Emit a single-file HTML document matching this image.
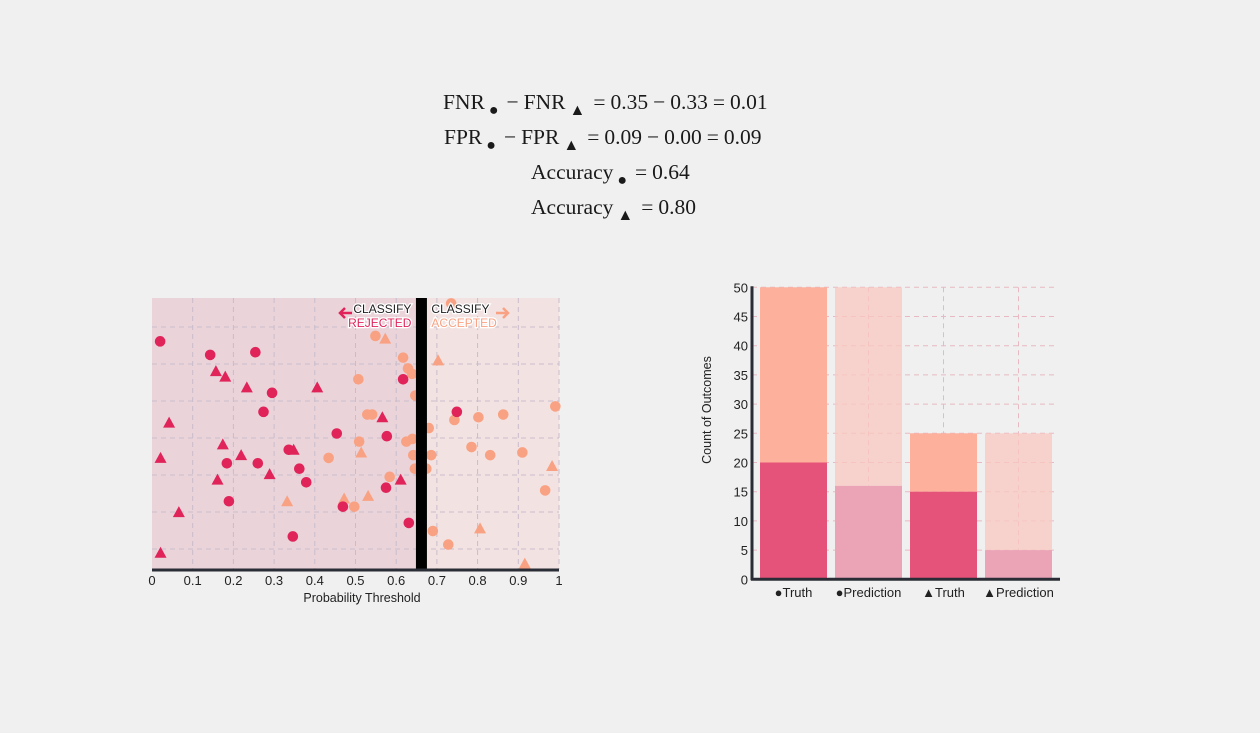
<!DOCTYPE html>
<html><head><meta charset="utf-8">
<style>
html,body{margin:0;padding:0;background:#eff0ef;}
body{width:1260px;height:733px;position:relative;overflow:hidden;font-family:"Liberation Sans",sans-serif;}
.eq{position:absolute;font-family:"Liberation Serif",serif;font-size:21.5px;color:#1a1a1a;white-space:nowrap;}
.eq sub{font-size:16px;vertical-align:-6px;margin:0 3px 0 4px;}
.eq .op{margin:0 5px;}
</style></head>
<body>
<div class="eq" style="left:443px;top:90px;">FNR<sub>●</sub><span class="op">−</span>FNR<sub>▲</sub><span class="op">=</span>0.35<span class="op">−</span>0.33<span class="op">=</span>0.01</div>
<div class="eq" style="left:444px;top:125px;">FPR<sub>●</sub><span class="op">−</span>FPR<sub>▲</sub><span class="op">=</span>0.09<span class="op">−</span>0.00<span class="op">=</span>0.09</div>
<div class="eq" style="left:531px;top:160px;">Accuracy<sub>●</sub><span class="op">=</span>0.64</div>
<div class="eq" style="left:531px;top:195px;">Accuracy<sub>▲</sub><span class="op">=</span>0.80</div>

<svg id="scatter" width="1260" height="733" style="position:absolute;left:0;top:0" xmlns="http://www.w3.org/2000/svg"></svg>

<script>
// scatter data
const threshold = 0.662;
const darkCircleX = [0.02,0.143,0.254,0.295,0.274,0.454,0.577,0.617,0.336,0.184,0.260,0.362,0.379,0.189,0.575,0.469,0.631,0.346,0.749];
const darkCircleY = [0.84,0.79,0.80,0.65,0.58,0.50,0.49,0.70,0.44,0.39,0.39,0.37,0.32,0.25,0.30,0.23,0.17,0.12,0.58];
const darkTriX = [0.157,0.180,0.233,0.406,0.042,0.566,0.174,0.021,0.219,0.348,0.289,0.161,0.611,0.066,0.021];
const darkTriY = [0.73,0.71,0.67,0.67,0.54,0.56,0.46,0.41,0.42,0.44,0.35,0.33,0.33,0.21,0.06];
const lightCircleX = [0.549,0.735,0.617,0.629,0.639,0.507,0.647,0.529,0.541,0.743,0.802,0.863,0.991,0.680,0.640,0.625,0.509,0.434,0.642,0.686,0.785,0.831,0.910,0.646,0.674,0.584,0.497,0.966,0.690,0.728];
const lightCircleY = [0.86,0.98,0.78,0.74,0.72,0.70,0.64,0.57,0.57,0.55,0.56,0.57,0.60,0.52,0.48,0.47,0.47,0.41,0.42,0.42,0.45,0.42,0.43,0.37,0.37,0.34,0.23,0.29,0.14,0.09];
const lightTriX = [0.573,0.703,0.514,0.983,0.332,0.472,0.531,0.806,0.916];
const lightTriY = [0.85,0.77,0.43,0.38,0.25,0.26,0.27,0.15,0.02];
const xTicks = ["0","0.1","0.2","0.3","0.4","0.5","0.6","0.7","0.8","0.9","1"];

// bar data
const barCats = ["Truth","Prediction","Truth","Prediction"];
const barSymbols = ["●","●","▲","▲"];
const barTotals = [50,50,25,25];
const barRejected = [20,16,15,5];
const yTicks = [0,5,10,15,20,25,30,35,40,45,50];

const NS="http://www.w3.org/2000/svg";
const svg=document.getElementById('scatter');
function mk(tag,attrs,parent){const e=document.createElementNS(NS,tag);for(const k in attrs)e.setAttribute(k,attrs[k]);(parent||svg).appendChild(e);return e;}

// scatter axes
const sx0=152,sx1=559,sy0=569,syTop=298,sH=271;
const sx=v=>sx0+v*(sx1-sx0);
const sy=v=>sy0-v*sH;
const thx=sx(threshold);
let r=mk('rect',{x:sx0,y:syTop,width:thx-sx0,height:sy0-syTop,fill:'#ead4da'});


r=mk('rect',{x:thx,y:syTop,width:sx1-thx,height:sy0-syTop,fill:'#f2e3e2'});


for(let i=1;i<=10;i++){const l=mk('line',{x1:sx(i/10),x2:sx(i/10),y1:syTop,y2:sy0,stroke:'#c9bccb','stroke-dasharray':'5,4','stroke-width':1});

}
for(let i=0;i<7;i++){const y=327+i*37;const l=mk('line',{x1:sx0,x2:sx1,y1:y,y2:y,stroke:'#c9bccb','stroke-dasharray':'5,4','stroke-width':1});

}
function circ(x,y,c,name){const e=mk('circle',{cx:sx(x),cy:sy(y),r:5.3,fill:c});

}
function tri(x,y,c,name){const cx=sx(x),cy=sy(y);const e=mk('polygon',{points:`${cx},${cy-6} ${cx-6},${cy+5} ${cx+6},${cy+5}`,fill:c});

}
const LIGHT='#f9a283',DARK='#e0245a';
lightCircleX.forEach((x,i)=>circ(x,lightCircleY[i],LIGHT,'accepted-circle-point'));
lightTriX.forEach((x,i)=>tri(x,lightTriY[i],LIGHT,'accepted-triangle-point'));
darkCircleX.forEach((x,i)=>circ(x,darkCircleY[i],DARK,'rejected-circle-point'));
darkTriX.forEach((x,i)=>tri(x,darkTriY[i],DARK,'rejected-triangle-point'));
r=mk('rect',{x:thx-5.5,y:syTop,width:11,height:sy0-syTop,fill:'#000'});


r=mk('line',{x1:sx0,x2:sx1,y1:sy0+1,y2:sy0+1,stroke:'#2a2d35','stroke-width':3});


xTicks.forEach((t,i)=>{const e=mk('text',{x:sx(i/10),y:585,'font-size':13,'text-anchor':'middle',fill:'#222'});e.textContent=t;

});
let t=mk('text',{x:362,y:602,'font-size':12.5,'text-anchor':'middle',fill:'#222'});t.textContent='Probability Threshold';


// classify labels
function lbl(x,y,txt,c,anchor,name){const e=mk('text',{x:x,y:y,'font-size':12,'text-anchor':anchor,fill:c,stroke:'#fff','stroke-width':2.5,'paint-order':'stroke'});e.textContent=txt;

}
lbl(thx-10,313,'CLASSIFY','#1f1f1f','end','classify-rejected-label');
lbl(thx-10,327,'REJECTED',DARK,'end','rejected-label');
lbl(thx+10,313,'CLASSIFY','#1f1f1f','start','classify-accepted-label');
lbl(thx+10,327,'ACCEPTED',LIGHT,'start','accepted-label');
let a=mk('path',{d:'M352,313 h-12 M345,308 l-5,5 l5,5',stroke:DARK,'stroke-width':2.5,fill:'none'});


a=mk('path',{d:'M496,313 h12 M503,308 l5,5 l-5,5',stroke:LIGHT,'stroke-width':2.5,fill:'none'});



// bar chart
const bx0=752,bx1=1060,by0=579.3,by50=287.3;
const by=v=>by0-v*(by0-by50)/50;
const barW=67,barStep=75,barStart=760;
const bxs=i=>barStart+i*barStep;
yTicks.forEach(v=>{if(v>0){const l=mk('line',{x1:bx0,x2:1057,y1:by(v),y2:by(v),stroke:'#e8b9c2','stroke-dasharray':'5,4','stroke-width':1});

}
const e=mk('text',{x:748,y:by(v)+5,'font-size':13,'text-anchor':'end',fill:'#222'});e.textContent=v;

});
[1,2,3].forEach(i=>{const x=bxs(i)+barW/2;const l=mk('line',{x1:x,x2:x,y1:by50,y2:by0,stroke:'#e8b9c2','stroke-dasharray':'5,4','stroke-width':1});

});
barTotals.forEach((tot,i)=>{const pred=i%2===1;
let e=mk('rect',{x:bxs(i),y:by(tot),width:barW,height:by(barRejected[i])-by(tot),fill:pred?'rgba(250,200,192,0.75)':'#fdb09b'});


e=mk('rect',{x:bxs(i),y:by(barRejected[i]),width:barW,height:by0-by(barRejected[i]),fill:pred?'#eba3b6':'#e5527a'});


const tx=mk('text',{x:bxs(i)+barW/2,y:597,'font-size':13,'text-anchor':'middle',fill:'#222'});tx.textContent=barSymbols[i]+barCats[i];

});
r=mk('line',{x1:bx0,x2:bx0,y1:by50-1,y2:by0+1,stroke:'#2a2d35','stroke-width':3});


r=mk('line',{x1:bx0-1,x2:bx1,y1:by0,y2:by0,stroke:'#2a2d35','stroke-width':3});


t=mk('text',{x:0,y:0,'font-size':12.5,'text-anchor':'middle',fill:'#222',transform:'translate(711,410) rotate(-90)'});t.textContent='Count of Outcomes';


</script>
</body></html>
